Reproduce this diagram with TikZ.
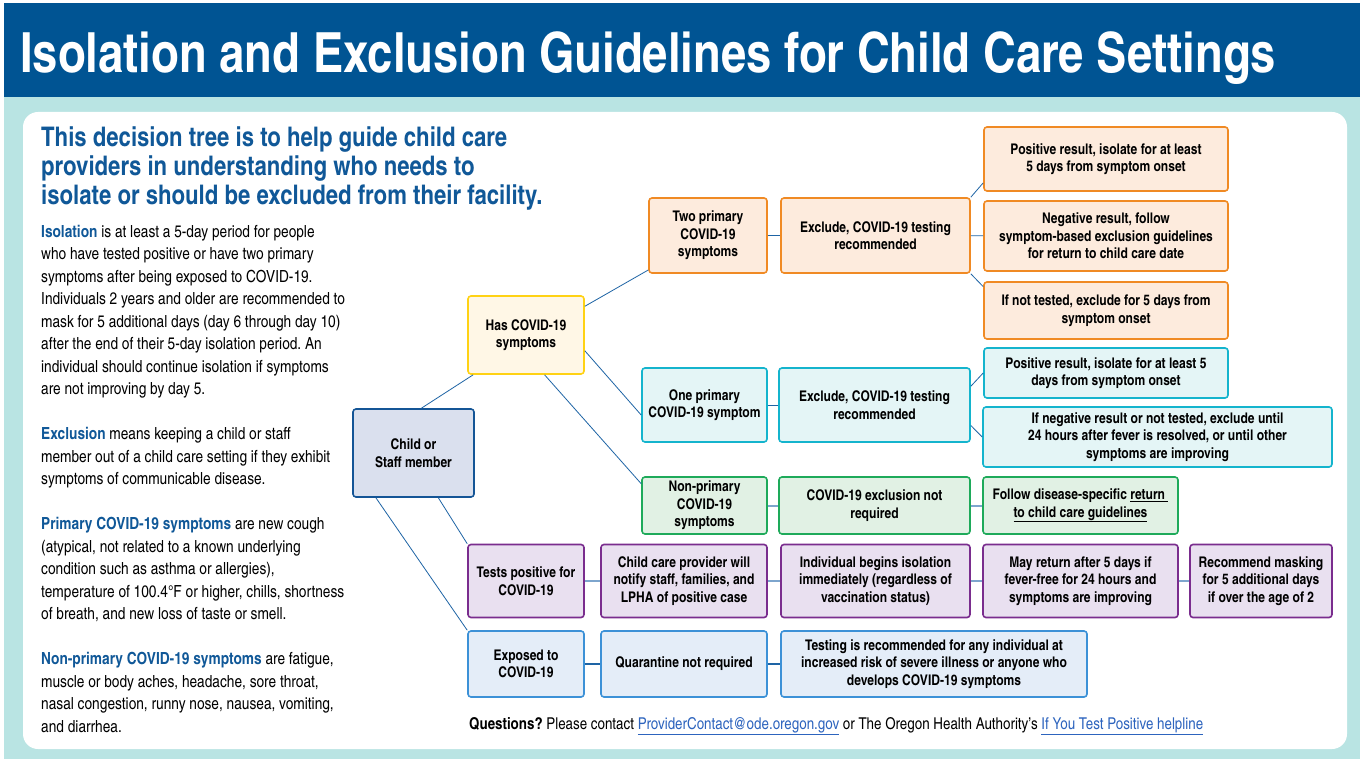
\documentclass[tikz,border=0pt]{standalone}
\usepackage{fontspec}
\setmainfont{texgyreheroscn}[Extension=.otf, UprightFont=*-regular, BoldFont=*-bold,
  ItalicFont=*-italic, BoldItalicFont=*-bolditalic]
\frenchspacing
\definecolor{bannerblue}{RGB}{0,84,147}
\definecolor{tealbg}{RGB}{185,228,227}
\definecolor{headblue}{RGB}{16,88,152}
\definecolor{linkblue}{RGB}{45,100,190}
\definecolor{treeblue}{RGB}{30,100,165}
\definecolor{rowblue}{RGB}{125,165,205}
\definecolor{orangeline}{RGB}{240,138,36}
\definecolor{orangefill}{RGB}{253,235,221}
\definecolor{yellowline}{RGB}{255,210,20}
\definecolor{yellowfill}{RGB}{255,247,230}
\definecolor{tealline}{RGB}{20,180,205}
\definecolor{tealfill}{RGB}{228,245,246}
\definecolor{greenline}{RGB}{30,170,90}
\definecolor{greenfill}{RGB}{225,241,228}
\definecolor{purpleline}{RGB}{122,45,142}
\definecolor{purplefill}{RGB}{233,224,240}
\definecolor{skyline}{RGB}{60,145,215}
\definecolor{skyfill}{RGB}{228,237,248}
\definecolor{memberline}{RGB}{20,85,150}
\definecolor{memberfill}{RGB}{218,224,238}
\newcommand{\boxfont}{\fontsize{14.7}{17.5}\selectfont\bfseries}
\tikzset{
  box/.style={draw, rounded corners=3pt, line width=1.6pt, align=center, font=\boxfont, inner sep=2pt},
  orangebox/.style={box, draw=orangeline, fill=orangefill},
  yellowbox/.style={box, draw=yellowline, fill=yellowfill},
  tealbox/.style={box, draw=tealline, fill=tealfill},
  greenbox/.style={box, draw=greenline, fill=greenfill},
  purplebox/.style={box, draw=purpleline, fill=purplefill},
  skybox/.style={box, draw=skyline, fill=skyfill},
  memberbox/.style={box, draw=memberline, fill=memberfill},
  treeline/.style={draw=treeblue, line width=0.8pt},
  rowline/.style={draw=rowblue, line width=2pt},
  darkrow/.style={draw=treeblue, line width=1.4pt}
}
\begin{document}
\begin{tikzpicture}[x=1pt,y=-1pt]
 \useasboundingbox (0,0) rectangle (1360,759);
 \fill[white] (0,0) rectangle (1360,759);
 \fill[tealbg] (4,97) rectangle (1360,759);
 \fill[bannerblue] (4,3) rectangle (1360,97);
 \fill[white,rounded corners=15pt] (23,112) rectangle (1347,749);
 \node[anchor=base west,inner sep=0,text=white,font=\fontsize{55.4}{60}\selectfont\bfseries] (title)
    at (20,73) {Isolation and Exclusion Guidelines for Child Care Settings};
 \node[anchor=north west,inner sep=0,align=left,text=headblue,font=\fontsize{27}{29}\selectfont\bfseries] (lead)
    at (41,127) {This decision tree is to help guide child care\\providers in understanding who needs to\\isolate or should be excluded from their facility.};
 \node[anchor=north west,inner sep=0,align=left,font=\fontsize{16.7}{22.5}\selectfont] (defs) at (41,225)
    {\textcolor{headblue}{\bfseries Isolation} is at least a 5-day period for people\\
     who have tested positive or have two primary\\
     symptoms after being exposed to COVID-19.\\
     Individuals 2 years and older are recommended to\\
     mask for 5 additional days (day 6 through day 10)\\
     after the end of their 5-day isolation period. An\\
     individual should continue isolation if symptoms\\
     are not improving by day 5.\\[22.5pt]
     \textcolor{headblue}{\bfseries Exclusion} means keeping a child or staff\\
     member out of a child care setting if they exhibit\\
     symptoms of communicable disease.\\[22.5pt]
     \textcolor{headblue}{\bfseries Primary COVID-19 symptoms} are new cough\\
     (atypical, not related to a known underlying\\
     condition such as asthma or allergies),\\
     temperature of 100.4°F or higher, chills, shortness\\
     of breath, and new loss of taste or smell.\\[22.5pt]
     \textcolor{headblue}{\bfseries Non-primary COVID-19 symptoms} are fatigue,\\
     muscle or body aches, headache, sore throat,\\
     nasal congestion, runny nose, nausea, vomiting,\\
     and diarrhea.};

 \node[memberbox,minimum width=121,minimum height=88] (member) at (413.5,453) {Child or\\Staff member};
 \node[yellowbox,minimum width=116,minimum height=78] (has) at (526,335) {Has COVID-19\\symptoms};

 \node[orangebox,minimum width=118,minimum height=75] (two) at (708,235.5) {Two primary\\COVID-19\\symptoms};
 \node[orangebox,minimum width=189,minimum height=75] (exclA) at (875.5,235.5) {Exclude, COVID-19 testing\\recommended};
 \node[orangebox,minimum width=244,minimum height=64] (posA) at (1106,159) {Positive result, isolate for at least\\5 days from symptom onset};
 \node[orangebox,minimum width=244,minimum height=70] (negA) at (1106,236) {Negative result, follow\\symptom-based exclusion guidelines\\for return to child care date};
 \node[orangebox,minimum width=244,minimum height=57] (untested) at (1106,310.5) {If not tested, exclude for 5 days from\\symptom onset};

 \node[tealbox,minimum width=125,minimum height=74] (one) at (704.5,405) {One primary\\COVID-19 symptom};
 \node[tealbox,minimum width=191,minimum height=74] (exclB) at (874.5,405) {Exclude, COVID-19 testing\\recommended};
 \node[tealbox,minimum width=244,minimum height=50] (posB) at (1106,373) {Positive result, isolate for at least 5\\days from symptom onset};
 \node[tealbox,minimum width=349,minimum height=60] (negB) at (1157.5,437) {If negative result or not tested, exclude until\\24 hours after fever is resolved, or until other\\symptoms are improving};

 \node[greenbox,minimum width=125,minimum height=57] (nonprim) at (704.5,505.5) {Non-primary\\COVID-19\\symptoms};
 \node[greenbox,minimum width=191,minimum height=57] (notreq) at (874.5,505.5) {COVID-19 exclusion not\\required};
 \node[greenbox,minimum width=195,minimum height=57] (follow) at (1080.5,505.5) {Follow disease-specific \underline{return\ }\\\underline{to child care guidelines}};

 \node[purplebox,minimum width=116,minimum height=73] (testpos) at (526,581) {Tests positive for\\COVID-19};
 \node[purplebox,minimum width=166,minimum height=73] (notify) at (684,581) {Child care provider will\\notify staff, families, and\\LPHA of positive case};
 \node[purplebox,minimum width=189,minimum height=73] (begins) at (875.5,581) {Individual begins isolation\\immediately (regardless of\\vaccination status)};
 \node[purplebox,minimum width=195,minimum height=73] (mayreturn) at (1080.5,581) {May return after 5 days if\\fever-free for 24 hours and\\symptoms are improving};
 \node[purplebox,minimum width=142,minimum height=73] (masking) at (1261,581) {Recommend masking\\for 5 additional days\\if over the age of 2};

 \node[skybox,minimum width=116,minimum height=66] (exposed) at (526,664) {Exposed to\\COVID-19};
 \node[skybox,minimum width=166,minimum height=66] (quarantine) at (684,664) {Quarantine not required};
 \node[skybox,minimum width=306,minimum height=66] (testing) at (934,664) {Testing is recommended for any individual at\\increased risk of severe illness or anyone who\\develops COVID-19 symptoms};

 \draw[treeline] (member.80) -- (has.217);
 \draw[treeline] (member.-61) -- (testpos.north west);
 \draw[treeline] (member.-130) -- (exposed.north west);
 \draw[treeline] (has.26) -- (two.210);
 \draw[treeline] (has.-15) -- (one.189);
 \draw[treeline] (has.-65) -- (nonprim.161);
 \draw[treeline] (two) -- (exclA);
 \draw[treeline] (exclA.north east) -- (posA.191);
 \draw[treeline] (exclA) -- (negA);
 \draw[treeline] (exclA.south east) -- (untested.169);
 \draw[treeline] (one) -- (exclB);
 \draw[treeline] (exclB.11) -- (posB.west);
 \draw[treeline] (exclB.-12) -- (negB.west);
 \draw[rowline] (nonprim) -- (notreq) (notreq) -- (follow);
 \draw[rowline] (testpos) -- (notify) (notify) -- (begins) (begins) -- (mayreturn) (mayreturn) -- (masking);
 \draw[darkrow] (exposed) -- (quarantine) (quarantine) -- (testing);

 \node[anchor=base west,inner sep=0,font=\fontsize{16.3}{18}\selectfont] (footer) at (469,729)
    {\textbf{Questions?} Please contact \textcolor{linkblue}{\underline{ProviderContact@ode.oregon.gov}} or The Oregon Health Authority’s \textcolor{linkblue}{\underline{If You Test Positive helpline}}};
\end{tikzpicture}
\end{document}
